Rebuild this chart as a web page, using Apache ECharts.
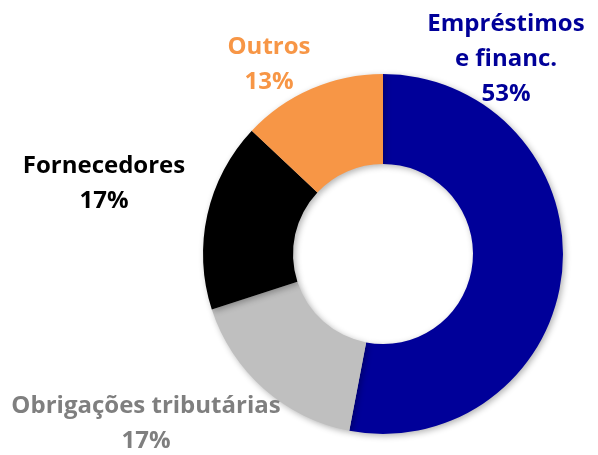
<!DOCTYPE html>
<html>
<head>
<meta charset="utf-8">
<script src="https://cdn.jsdelivr.net/npm/echarts@6/dist/echarts.min.js"></script>
<style>
    html, body { margin: 0; padding: 0; background: #fff; }
    #chart { width: 598px; height: 455px; }
</style>
</head>
<body>
<div id="chart"></div>
<script>
    // dados
    var categorias = ['Empréstimos\ne financ.', 'Obrigações tributárias', 'Fornecedores', 'Outros'];
    var valores = [53, 17, 17, 13];
    var cores = ['#000099', '#BFBFBF', '#000000', '#F79646'];
    var coresTexto = ['#000099', '#7F7F7F', '#000000', '#F79646'];

    // posição dos rótulos (centro do bloco de texto)
    var posRotulos = [[506, 59], [146, 424], [104, 184], [269, 65]];

    var chart = echarts.init(document.getElementById('chart'));
    var option = {
        animation: false,
        series: [{
            type: 'pie',
            center: [383, 254],
            radius: [90, 180],
            startAngle: 90,
            clockwise: true,
            avoidLabelOverlap: false,
            itemStyle: {
                shadowBlur: 6,
                shadowColor: 'rgba(0,0,0,0.3)',
                shadowOffsetX: 2,
                shadowOffsetY: 2
            },
            label: {
                show: true,
                position: 'outside',
                alignTo: 'none',
                overflow: 'none',
                fontFamily: 'Open Sans',
                fontWeight: 'bold',
                fontSize: 24,
                lineHeight: 35,
                align: 'center',
                formatter: function (p) { return p.name + '\n' + p.value + '%'; }
            },
            labelLine: { show: false },
            labelLayout: function (p) {
                var pos = posRotulos[p.dataIndex];
                return { x: pos[0], y: pos[1], align: 'center', verticalAlign: 'middle', hideOverlap: false };
            },
            data: categorias.map(function (c, i) {
                return {
                    name: c,
                    value: valores[i],
                    itemStyle: { color: cores[i] },
                    label: { color: coresTexto[i] }
                };
            })
        }]
    };
    chart.setOption(option);
</script>
</body>
</html>
